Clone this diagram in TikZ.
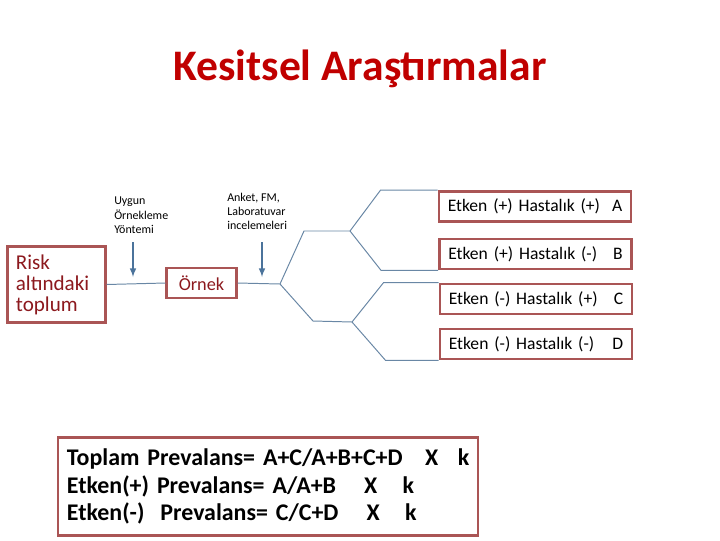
\documentclass[tikz,border=0pt]{standalone}
\usepackage{fontspec}
\setmainfont{Carlito}
\usepackage{tikz}
\usetikzlibrary{arrows}
\usetikzlibrary{shapes}

\definecolor{titlered}{RGB}{192,0,0}
\definecolor{textred}{RGB}{140,25,30}
\definecolor{boxred}{RGB}{170,85,85}
\definecolor{linkblue}{RGB}{105,135,165}
\definecolor{arrowblue}{RGB}{75,115,155}

\tikzset{
	frame/.style={draw=boxred, line width=2pt, inner sep=0pt},
	group box/.style={frame, minimum width=4.8cm, minimum height=0.75cm,
		text width=4.36cm, align=left, font=\fontsize{12.5}{14}\selectfont},
	note/.style={anchor=north west, align=left, inner sep=0pt,
		font=\fontsize{8.5}{10}\selectfont},
	link/.style={draw=linkblue, line width=0.7pt},
	pointer/.style={draw=arrowblue, line width=1.1pt, -latex}
}

\begin{document}
\begin{tikzpicture}[x=0.025cm, y=-0.025cm]
		% Fixing the page to the slide size
		\useasboundingbox (0,0) rectangle (720,540);
		% Title of the slide
		\node[text=titlered, font=\fontsize{31}{36}\selectfont\bfseries] (title)
			at (360,69) {Kesitsel Araştırmalar};

		% Population and sample boxes
		\node[frame, minimum width=2.43cm, minimum height=1.88cm,
			text width=2.03cm, align=left, text=textred,
			font=\fontsize{15}{15}\selectfont] (risk)
			at (56.5,284.5) {Risk\\altındaki\\toplum};
		\node[frame, minimum width=1.73cm, minimum height=0.75cm, text=textred,
			font=\fontsize{13}{15}\selectfont] (ornek)
			at (201.5,283) {Örnek};
		\draw[link] (risk.east) -- (ornek.west);

		% Small notes with their arrows onto the line
		\node[note] (yontem) at (114,197) {Uygun\\Örnekleme\\Yöntemi};
		\node[note] (inceleme) at (227,193) {Anket, FM,\\Laboratuvar\\incelemeleri};
		\coordinate (Sampling Top) at (133,242);
		\coordinate (Sampling Tip) at (133,277);
		\coordinate (Survey Top) at (262,242);
		\coordinate (Survey Tip) at (262,277);
		\draw[pointer] (Sampling Top) -- (Sampling Tip);
		\draw[pointer] (Survey Top) -- (Survey Tip);

		% The four groups
		\node[group box] (a) at (535,206.5) {Etken (+) Hastalık (+)\hfill A};
		\node[group box] (b) at (535.5,254) {Etken (+) Hastalık (-)\hfill B};
		\node[group box] (c) at (536,299) {Etken (-) Hastalık (+)\hfill C};
		\node[group box] (d) at (536,344) {Etken (-) Hastalık (-)\hfill D};

		% Branching from the sample to the groups
		\coordinate (Split) at (280,284);
		\coordinate (Upper Split) at (350,231);
		\coordinate (Lower Split) at (352,322);
		\draw[link] (ornek.east) -- (Split);
		\draw[link] (Split) -- (304,231) -- (Upper Split);
		\draw[link] (Split) -- (313,321) -- (Lower Split);
		\draw[link] (a.north west) -- ++(-57,0) -- (Upper Split);
		\draw[link] (b.south west) -- ++(-57,0) -- (Upper Split);
		\draw[link] (c.north west) -- ++(-55,0) -- (Lower Split);
		\draw[link] (d.south west) -- ++(-53,0) -- (Lower Split);

		% Prevalence formulas
		\node[frame, minimum width=10.5cm, minimum height=2.43cm,
			text width=10.05cm, align=left,
			font=\fontsize{17}{19.8}\selectfont\bfseries] (prevalans)
			at (268,486.5)
			{Toplam Prevalans= A+C/A+B+C+D\hspace{16pt}X\hspace{14pt}\rlap{k}\\
			Etken(+) Prevalans= A/A+B\hspace{20pt}X\hspace{18pt}k\\
			Etken(-)\ \ Prevalans= C/C+D\hspace{20pt}X\hspace{18pt}k};
	\end{tikzpicture}
\end{document}
